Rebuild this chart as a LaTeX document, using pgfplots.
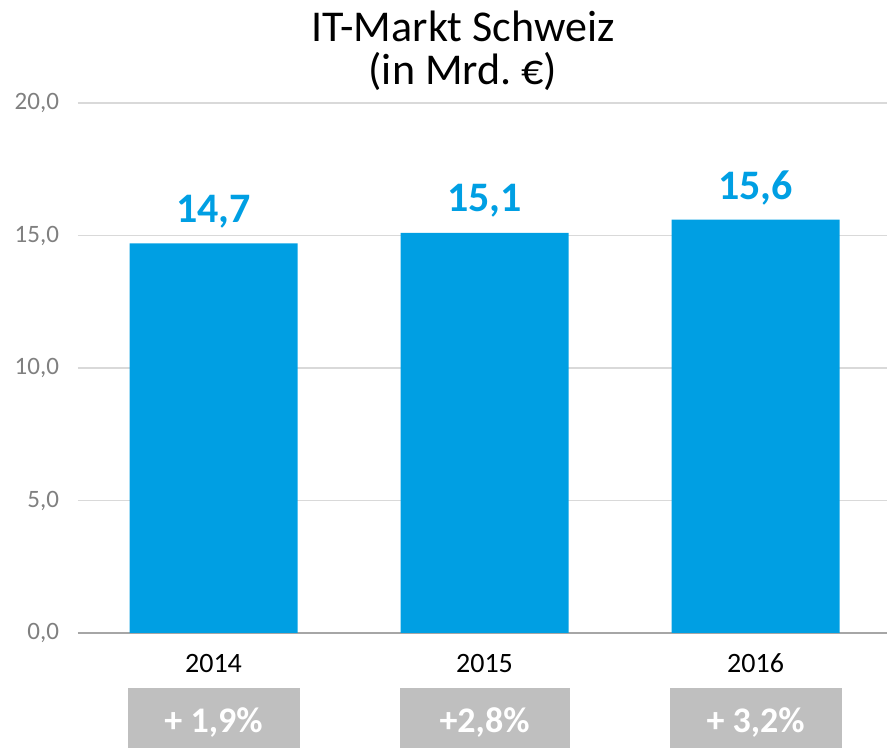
\documentclass[border=0pt]{standalone}
\usepackage{pgfplots}
\pgfplotsset{compat=1.18}
\usepackage{fontspec}
\setmainfont{Carlito}
\definecolor{barblue}{RGB}{0,159,227}
\definecolor{boxgray}{RGB}{191,191,191}
\definecolor{gridgray}{RGB}{217,217,217}
\definecolor{axisgray}{RGB}{166,166,166}
\definecolor{ticktext}{RGB}{128,128,128}
\begin{document}
\begin{tikzpicture}
\useasboundingbox (-39pt,-57.5pt) rectangle (404.5pt,316.5pt);
\begin{axis}[
  at={(0,0)}, anchor=south west,
  width=404.5pt, height=265pt, scale only axis,
  xmin=-0.5, xmax=2.485, ymin=0, ymax=20,
  ytick={0,5,...,20}, xtick={0,1,2}, xticklabels={2014,2015,2016},
  axis x line=bottom, axis y line=left, axis line style={-},
  y axis line style={draw=none},
  x axis line style={axisgray, line width=1pt},
  major tick length=0pt,
  ymajorgrids, grid style={gridgray, line width=0.8pt},
  yticklabel style={ticktext, font=\fontsize{12.5}{14}\selectfont, xshift=-6pt,
    /pgf/number format/fixed, /pgf/number format/fixed zerofill,
    /pgf/number format/precision=1, /pgf/number format/use comma},
  xticklabel style={black, font=\fontsize{14}{16}\selectfont, yshift=-7pt},
  /pgf/number format/assume math mode=true,
  clip=false,
]
\addplot[ybar, bar width=84pt, fill=barblue, draw=none,
  nodes near coords={\pgfmathprintnumber[fixed,fixed zerofill,precision=1,use comma]{\pgfplotspointmeta}},
  nodes near coords style={barblue, font=\bfseries\fontsize{21}{24}\selectfont, anchor=center, yshift=16pt},
  point meta=y] coordinates {(0,14.7)(1,15.1)(2,15.6)};
\node[fill=boxgray, text=white, font=\bfseries\fontsize{18}{20}\selectfont, minimum width=86pt, minimum height=34pt, anchor=north, inner sep=0pt] at ([yshift=-27.5pt]axis cs:0,0) {+ 1,9\%};
\node[fill=boxgray, text=white, font=\bfseries\fontsize{18}{20}\selectfont, minimum width=85pt, minimum height=34pt, anchor=north, inner sep=0pt] at ([yshift=-27.5pt]axis cs:1,0) {+2,8\%};
\node[fill=boxgray, text=white, font=\bfseries\fontsize{18}{20}\selectfont, minimum width=86pt, minimum height=34pt, anchor=north, inner sep=0pt] at ([yshift=-27.5pt]axis cs:2,0) {+ 3,2\%};
\end{axis}
\node[align=center, font=\fontsize{22}{21.5}\selectfont, anchor=north, inner sep=0pt] at (192.5pt,311pt) {IT-Markt Schweiz\\(in Mrd.~€)};
\end{tikzpicture}
\end{document}
